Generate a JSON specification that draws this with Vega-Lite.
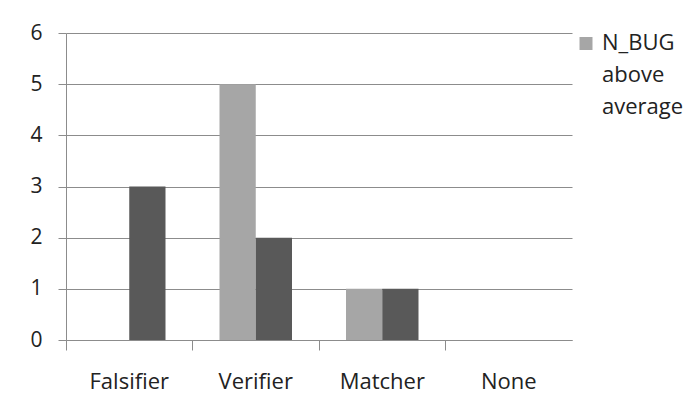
{
  "$schema": "https://vega.github.io/schema/vega-lite/v6.json",
  "autosize": "none",
  "width": 506,
  "height": 307,
  "padding": {"left": 66, "top": 33, "right": 118, "bottom": 65},
  "background": "white",
  "config": {
    "view": {"stroke": null},
    "font": "Open Sans",
    "axis": {"labelFont": "Open Sans", "labelColor": "#222222"},
    "legend": {"labelFont": "Open Sans"},
    "style": {"guide-label": {"lineHeight": 32}}
  },
  "data": {
    "values": [
      {"category": "Falsifier", "series": "N_BUG above average", "value": 0},
      {"category": "Falsifier", "series": "N_BUG below average", "value": 3},
      {"category": "Verifier", "series": "N_BUG above average", "value": 5},
      {"category": "Verifier", "series": "N_BUG below average", "value": 2},
      {"category": "Matcher", "series": "N_BUG above average", "value": 1},
      {"category": "Matcher", "series": "N_BUG below average", "value": 1},
      {"category": "None", "series": "N_BUG above average", "value": 0},
      {"category": "None", "series": "N_BUG below average", "value": 0}
    ]
  },
  "mark": {"type": "bar"},
  "encoding": {
    "x": {
      "field": "category",
      "type": "nominal",
      "sort": ["Falsifier", "Verifier", "Matcher", "None"],
      "scale": {"paddingInner": 0, "paddingOuter": 0},
      "axis": {
        "title": null,
        "labelAngle": 0,
        "labelFontSize": 22,
        "labelPadding": 21,
        "bandPosition": 0,
        "tickSize": 10,
        "tickColor": "#8c8c8c",
        "domainColor": "#8c8c8c",
        "grid": false
      }
    },
    "xOffset": {
      "field": "series",
      "type": "nominal",
      "scale": {"paddingInner": 0, "paddingOuter": 0.745}
    },
    "y": {
      "field": "value",
      "type": "quantitative",
      "scale": {"domain": [0, 6], "nice": false},
      "axis": {
        "title": null,
        "values": [0, 1, 2, 3, 4, 5, 6],
        "labelFontSize": 21,
        "labelPadding": 16,
        "tickSize": 8,
        "tickColor": "#8c8c8c",
        "domainColor": "#8c8c8c",
        "gridColor": "#8c8c8c",
        "gridOpacity": 1
      }
    },
    "color": {
      "field": "series",
      "type": "nominal",
      "scale": {"domain": ["N_BUG above average", "N_BUG below average"], "range": ["#a6a6a6", "#595959"]},
      "legend": {
        "title": null,
        "orient": "none",
        "legendX": 509,
        "legendY": 6,
        "values": ["N_BUG above average"],
        "symbolType": "M-1,-2H1V0H-1Z",
        "symbolSize": 169,
        "symbolStrokeWidth": 0,
        "labelOffset": 5,
        "labelFontSize": 22,
        "labelLimit": 200,
        "labelExpr": "['N_BUG', 'above', 'average']",
        "labelBaseline": "alphabetic",
        "labelColor": "#222222"
      }
    }
  }
}
